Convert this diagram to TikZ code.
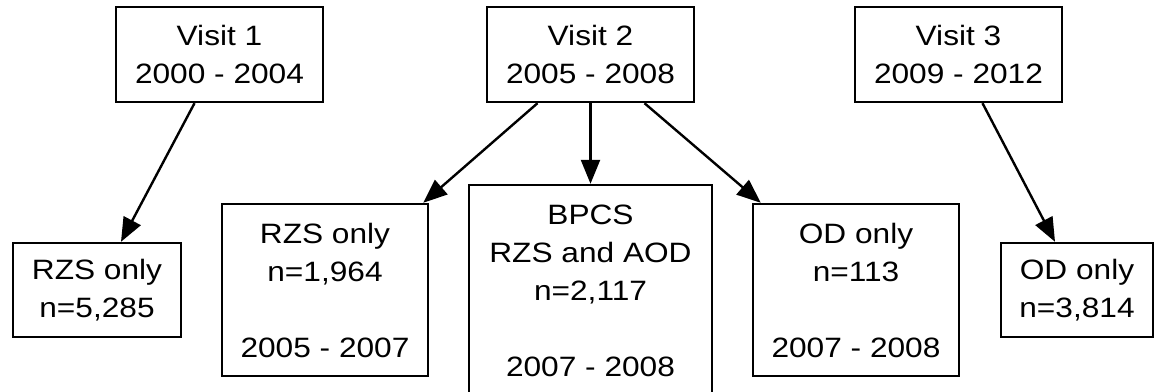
\documentclass[tikz,border=0pt]{standalone}
\usepackage{fontspec}
\setmainfont{Liberation Sans}[FakeStretch=1.13]
\usetikzlibrary{arrows.meta}

\tikzset{
  box/.style={draw, line width=2.4pt, inner sep=0pt, align=center,
    font=\fontsize{28}{38}\selectfont},
  arr/.style={line width=2.4pt, -{Triangle[length=24pt,width=19pt]}}
}

\begin{document}
\begin{tikzpicture}[x=1pt,y=-1pt]
    \useasboundingbox (0,0) rectangle (1154,391);

    \node[box, minimum width=207pt, minimum height=95pt] (v1) at (219.5,54.5) {Visit 1\\2000 - 2004};
    \node[box, minimum width=207pt, minimum height=95pt] (v2) at (590.5,54.5) {Visit 2\\2005 - 2008};
    \node[box, minimum width=207pt, minimum height=95pt] (v3) at (958.5,54.5) {Visit 3\\2009 - 2012};

    \node[box, minimum width=168pt, minimum height=94pt] (rzs1) at (97,290) {RZS only\\n=5,285};
    \node[box, minimum width=206pt, minimum height=172pt] (rzs2) at (325,290) {RZS only\\n=1,964\\[38pt]2005 - 2007};
    \node[box, minimum width=243pt, minimum height=211pt] (bpcs) at (590.5,290.5) {BPCS\\RZS and AOD\\n=2,117\\[38pt]2007 - 2008};
    \node[box, minimum width=206pt, minimum height=172pt] (od2) at (856,290) {OD only\\n=113\\[38pt]2007 - 2008};
    \node[box, minimum width=152pt, minimum height=94pt] (od3) at (1077,290) {OD only\\n=3,814};

    \draw[arr] ([xshift=-25pt]v1.south) -- ([xshift=24pt]rzs1.north);
    \draw[arr] ([xshift=-53pt]v2.south) -- ([xshift=-6pt]rzs2.north east);
    \draw[arr] (v2.south) -- (bpcs.north);
    \draw[arr] ([xshift=54pt]v2.south) -- ([xshift=9pt]od2.north west);
    \draw[arr] ([xshift=24pt]v3.south) -- ([xshift=-22pt]od3.north);
\end{tikzpicture}
\end{document}
